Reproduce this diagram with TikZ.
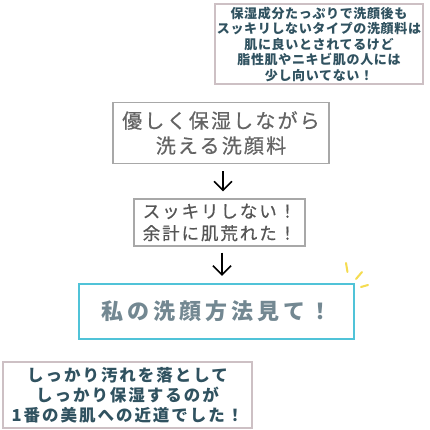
\documentclass[tikz,border=0pt]{standalone}
\usepackage{fontspec}
\usetikzlibrary{arrows.meta}
\newfontfamily\jpnote[LetterSpace=5]{Noto Sans CJK JP}
\newfontfamily\jpbig[LetterSpace=11,FakeBold=0.6]{Noto Sans CJK JP}
\newfontfamily\jpmid[LetterSpace=11,FakeBold=0.6]{Noto Sans CJK JP}
\newfontfamily\jptitle[LetterSpace=18]{Noto Sans CJK JP}
\newfontfamily\jpend[LetterSpace=12]{Noto Sans CJK JP}
\begin{document}
\begin{tikzpicture}[
		x=1pt,y=-1pt,
		every node/.style={align=center,inner sep=0pt},
		memo/.style={draw=MauMemo,line width=1.3pt,fill=white},
		hopbox/.style={draw=MauHop,line width=1.3pt,fill=white},
		muiten/.style={-{Straight Barb[length=9pt,width=18pt]},line width=1.5pt,black}
	]
		\definecolor{MauMemo}{RGB}{205,192,196}
		\definecolor{MauChuMemo}{RGB}{48,82,96}
		\definecolor{MauHop}{RGB}{168,168,168}
		\definecolor{MauChuHop}{RGB}{100,100,100}
		\definecolor{MauXanh}{RGB}{80,195,216}
		\definecolor{MauChuXanh}{RGB}{115,136,146}
		\definecolor{MauVang}{RGB}{245,220,80}
		\useasboundingbox[fill=white] (0,0) rectangle (430,430);
		\node[memo,minimum width=208,minimum height=80,
			font={\jpnote\bfseries\fontsize{13}{15.5}\selectfont},
			text=MauChuMemo] (note) at (319,44)
			{保湿成分たっぷりで洗顔後も\\スッキリしないタイプの洗顔料は\\肌に良いとされてるけど\\脂性肌やニキビ肌の人には\\少し向いてない！};
		\node[hopbox,minimum width=216,minimum height=61,
			font={\jpbig\fontsize{20}{25}\selectfont},
			text=MauChuHop] (gentle) at (221,133)
			{優しく保湿しながら\\洗える洗顔料};
		\node[hopbox,minimum width=171,minimum height=47,
			font={\jpmid\fontsize{17.5}{22}\selectfont},
			text=MauChuHop!85!black] (result) at (219.5,222.5)
			{スッキリしない！\\余計に肌荒れた！};
		\node[draw=MauXanh,line width=2.4pt,fill=white,
			minimum width=275,minimum height=55,
			font={\jptitle\bfseries\fontsize{22}{26}\selectfont},
			text=MauChuXanh] (method) at (216.5,311.5)
			{私の洗顔方法見て！};
		\node[memo,minimum width=249,minimum height=66,
			font={\jpend\bfseries\fontsize{16.5}{20}\selectfont},
			text=MauChuMemo] (answer) at (127.5,395)
			{しっかり汚れを落として\\しっかり保湿するのが\\1番の美肌への近道でした！};
		\draw[muiten,shorten <=7pt,shorten >=7pt]
			([xshift=2pt]gentle.south) -- ([xshift=3.5pt]result.north);
		\draw[muiten,shorten <=6pt,shorten >=7pt]
			([xshift=2.5pt]result.south) -- ([xshift=5.5pt]method.north);
		\draw[MauVang,line width=2pt,line cap=round]
			(346,263) -- (347.5,272)
			(356,279) -- (362,272)
			(361,287) -- (368,285);
	\end{tikzpicture}
\end{document}
